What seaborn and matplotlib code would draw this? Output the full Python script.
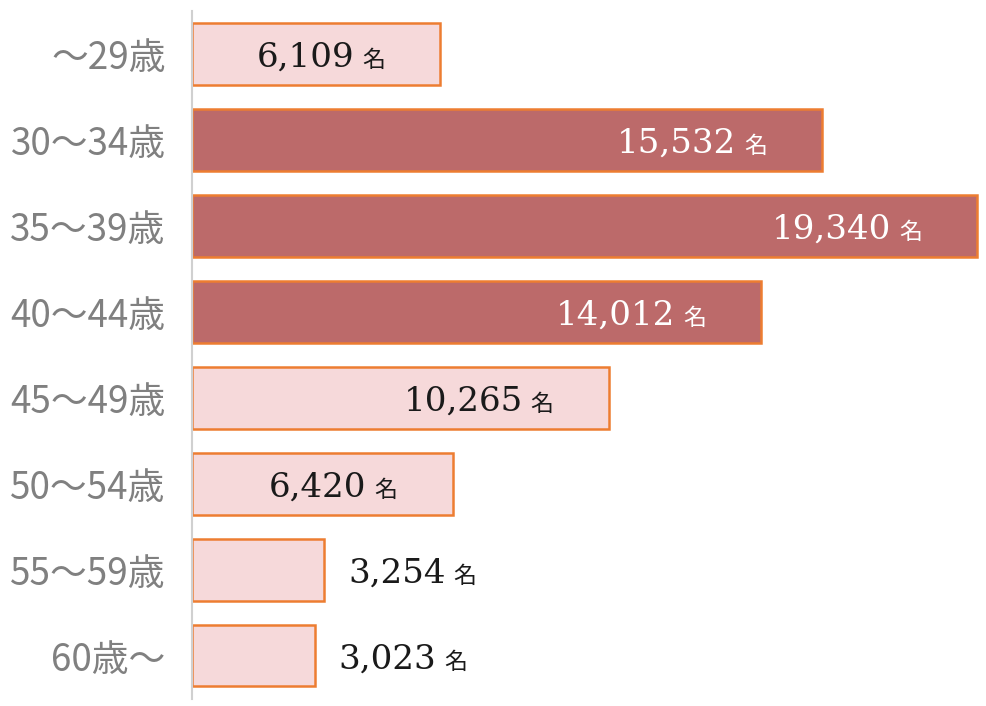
import matplotlib
matplotlib.use("Agg")
import matplotlib.pyplot as plt
import seaborn as sns
import pandas as pd

categories = ["～29歳", "30～34歳", "35～39歳", "40～44歳", "45～49歳", "50～54歳", "55～59歳", "60歳～"]
values = [6109, 15532, 19340, 14012, 10265, 6420, 3254, 3023]
highlight = [False, True, True, True, False, False, False, False]
inside = [True, True, True, True, True, True, False, False]

DARK = "#BC6A6A"
LIGHT = "#F6D9DA"
EDGE = "#ED7D31"

sns.set_theme(style="white")
plt.rcParams["font.family"] = ["Noto Sans CJK JP", "DejaVu Sans"]

df = pd.DataFrame({"cat": categories, "val": values})
colors = {c: (DARK if h else LIGHT) for c, h in zip(categories, highlight)}

fig = plt.figure(figsize=(9.86, 7.06), dpi=100)
ax = fig.add_axes([192 / 986, 1 - 698.5 / 706, (985 - 192) / 986, 687.5 / 706])
sns.barplot(data=df, x="val", y="cat", hue="cat", palette=colors, legend=False,
            width=0.72, edgecolor=EDGE, linewidth=1.8, ax=ax, saturation=1)
ax.set_xlim(0, 19540)
ax.set_ylim(7.5, -0.5)
ax.set_xlabel("")
ax.set_ylabel("")
ax.set_xticks([])
for s in ["top", "right", "bottom"]:
    ax.spines[s].set_visible(False)
ax.spines["left"].set_color("#D0D0D0")
ax.spines["left"].set_linewidth(1.5)
ax.tick_params(axis="y", length=0, pad=19, labelsize=26.5, labelcolor="#808080")

NUM_FS = 24.5
MEI_FS = 16.5
fig.canvas.draw()
renderer = fig.canvas.get_renderer()
for i, (v, h, ins) in enumerate(zip(values, highlight, inside)):
    color = "white" if h else "#1a1a1a"
    if ins:
        m = ax.annotate("名", (v, i), xytext=(-55, -13), textcoords="offset pixels",
                        ha="right", va="baseline", fontsize=MEI_FS, color=color,
                        family=["Noto Sans CJK JP"])
        mb = m.get_window_extent(renderer)
        x0 = ax.transData.transform((v, i))[0]
        ax.annotate(f"{v:,}", (v, i), xytext=(mb.x0 - x0 - 8, -13), textcoords="offset pixels",
                    ha="right", va="baseline", fontsize=NUM_FS, color=color,
                    family=["DejaVu Serif"])
    else:
        t = ax.annotate(f"{v:,}", (v, i), xytext=(24, -13), textcoords="offset pixels",
                        ha="left", va="baseline", fontsize=NUM_FS, color=color,
                        family=["DejaVu Serif"])
        bb = t.get_window_extent(renderer)
        x0 = ax.transData.transform((v, i))[0]
        ax.annotate("名", (v, i), xytext=(bb.x1 - x0 + 8, -13), textcoords="offset pixels",
                    ha="left", va="baseline", fontsize=MEI_FS, color=color,
                    family=["Noto Sans CJK JP"])

fig.savefig("out.png", dpi=100)
